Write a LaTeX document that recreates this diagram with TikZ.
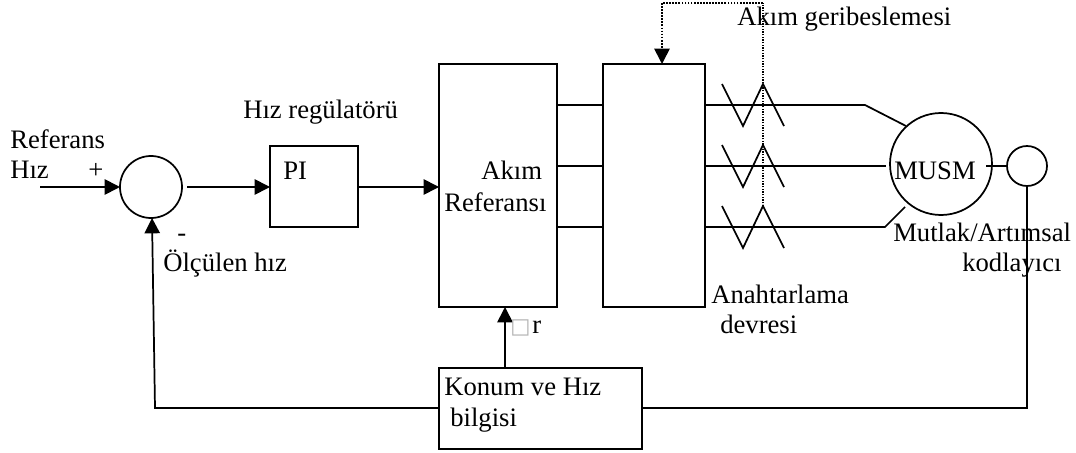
\documentclass[tikz,border=0pt]{standalone}
\usepackage{fontspec}
\setmainfont{Liberation Serif}
\newfontfamily\boxfont{DejaVu Sans}
\usetikzlibrary{arrows.meta,calc}

\tikzset{
  wire/.style={line width=1.3pt},
  sig/.style={line width=1.3pt,-{Triangle[length=11.5pt,width=11.5pt]}},
  fb/.style={line width=1pt,densely dotted},
  block/.style={draw,line width=1.3pt,inner sep=0pt,outer sep=0pt},
  ring/.style={circle,draw,line width=1.3pt,inner sep=0pt,outer sep=0pt},
  txt/.style={anchor=base west,inner sep=0pt,font=\fontsize{20}{24}\selectfont}
}

\begin{document}
\begin{tikzpicture}[x=0.75pt,y=-0.75pt]
  \useasboundingbox (0,0) rectangle (1076,453);

  \node [ring,minimum size=46.5pt] (sum) at (151,187) {};
  \node [block,minimum width=66pt,minimum height=60.75pt] (PI) at (314,186.5) {};
  \node [block,minimum width=88.5pt,minimum height=182.25pt] (ref) at (498,185.5) {};
  \node [block,minimum width=76.5pt,minimum height=182.25pt] (sw) at (654,185.5) {};
  \node [block,minimum width=152.25pt,minimum height=60.75pt] (pos) at (540.5,408.5) {};
  \node [ring,minimum size=76.5pt] (motor) at (941,164) {};
  \node [ring,minimum size=30pt] (enc) at (1027,166) {};

  % forward path
  \coordinate (in) at (40,187);
  \draw[sig] (in) -- (sum.west);
  \draw[sig] ($(sum.east)+(5,0)$) -- (PI.west |- 0,187);
  \draw[sig] (PI.east |- 0,187) -- (ref.west |- 0,187);

  % feedback
  \coordinate (fb1) at (155,408);
  \coordinate (fb2) at (152,218);
  \draw[sig] (pos.west |- fb1) -- (fb1) -- (fb2);
  \draw[sig] (pos.north -| 505,0) -- (ref.south -| 505,0);
  \draw[wire] (pos.east |- 0,408) -- (enc.south |- 0,408) -- (enc.south);

  % stubs
  \draw[wire] (ref.east |- 0,105) -- (sw.west |- 0,105);
  \draw[wire] (ref.east |- 0,166) -- (sw.west |- 0,166);
  \draw[wire] (ref.east |- 0,227) -- (sw.west |- 0,227);

  % phases
  \coordinate (L1a) at (865,105);
  \coordinate (L1b) at (906,126);
  \coordinate (L2a) at (886,166);
  \coordinate (L3a) at (885,227);
  \coordinate (L3b) at (905,207);
  \draw[wire] (sw.east |- L1a) -- (L1a) -- (L1b);
  \draw[wire] (sw.east |- L2a) -- (L2a);
  \draw[wire] (sw.east |- L3a) -- (L3a) -- (L3b);
  \coordinate (shaft) at (986,166);
  \draw[wire] (shaft) -- (enc.west);

  \draw[wire] (722,84) -- (743,126) -- (763,84) -- (784,126);
  \draw[wire] (722,145) -- (743,187) -- (763,145) -- (784,187);
  \draw[wire] (722,206) -- (743,248) -- (763,206) -- (784,248);

  % current sensing
  \coordinate (S3) at (763,206);
  \coordinate (S0) at (763,3);
  \coordinate (S1) at (662,3);
  \draw[fb] (S3) -- (S0);
  \draw[line width=1.3pt,densely dotted] (S0) -- (S1);
  \draw[line width=1.3pt,densely dotted,-{Triangle[length=11.5pt,width=11.5pt,sep=0pt]}] (S1) -- (sw.north -| S1);

  \node [txt] (t_fb) at (737,26) {Akım geribeslemesi};
  \node [txt] (t_reg) at (243,119) {Hız regülatörü};
  \node [txt] (t_ref1) at (10,149) {Referans};
  \node [txt] (t_ref2) at (10,179) {Hız};
  \node [txt] (t_plus) at (88,179) {+};
  \node [txt] (t_minus) at (177,242) {-};
  \node [txt] (t_meas) at (163,272) {Ölçülen hız};
  \node [txt] (t_pi) at (283,180) {PI};
  \node [txt] (t_cur1) at (481,180) {Akım};
  \node [txt] (t_cur2) at (444,211) {Referansı};
  \node [txt] (t_theta) at (510,333) {{\boxfont\fontsize{16}{16}\selectfont\color{gray!60}□}\kern1.5pt r};
  \node [txt] (t_sw1) at (711,303) {Anahtarlama};
  \node [txt] (t_sw2) at (720,333) {devresi};
  \node [txt] (t_mot) at (894,180) {MUSM};
  \node [txt] (t_enc1) at (893,241) {Mutlak/Artımsal};
  \node [txt] (t_enc2) at (962,271) {kodlayıcı};
  \node [txt] (t_pos1) at (444,395) {Konum ve Hız};
  \node [txt] (t_pos2) at (450,426) {bilgisi};
\end{tikzpicture}
\end{document}
